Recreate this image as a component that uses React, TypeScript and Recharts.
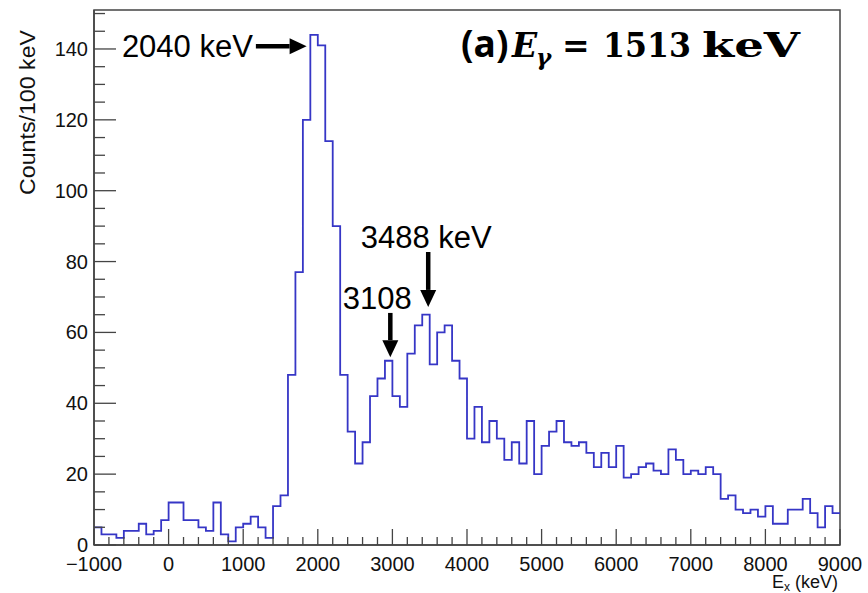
import React from "react";
import { ComposedChart, Line, XAxis, YAxis, ReferenceArea, ReferenceLine } from "recharts";

// counts per 100 keV bin, one list per 1000 keV span (named by its low edge)
const countsFromM1000 = [5, 3, 3, 2, 4, 4, 6, 3, 4, 7];
const countsFrom0 = [12, 12, 7, 7, 5, 4, 12, 3, 1, 5];
const countsFrom1000 = [6, 8, 5, 2, 11, 14, 48, 77, 120, 144];
const countsFrom2000 = [141, 114, 90, 48, 32, 23, 29, 42, 47, 52];
const countsFrom3000 = [42, 39, 54, 62, 65, 51, 60, 62, 52, 47];
const countsFrom4000 = [30, 39, 29, 35, 30, 24, 29, 23, 35, 20];
const countsFrom5000 = [28, 32, 35, 29, 28, 29, 26, 22, 26, 22];
const countsFrom6000 = [28, 19, 20, 22, 23, 21, 20, 27, 24, 20];
const countsFrom7000 = [21, 20, 22, 20, 13, 14, 10, 9, 10, 8];
const countsFrom8000 = [11, 6, 6, 10, 10, 13, 9, 5, 11, 9];

const BIN_LOW_EDGE = -1000;
const BIN_WIDTH = 100;

const xMajorTicks = [-1000, 0, 1000, 2000, 3000, 4000, 5000, 6000, 7000, 8000, 9000];
const yMajorTicks = [0, 20, 40, 60, 80, 100, 120, 140];
const Y_MAX = 151;

// peak markers: energy label, arrow start/end in data units
const peakMarks = [
  { text: "2040 keV", from: { x: 1170, y: 140.8 }, to: { x: 1850, y: 140.8 } },
  { text: "3488 keV", from: { x: 3480, y: 82.7 }, to: { x: 3480, y: 67.2 } },
  { text: "3108", from: { x: 2972, y: 65.5 }, to: { x: 2972, y: 53.0 } },
];

const counts = [
  ...countsFromM1000,
  ...countsFrom0,
  ...countsFrom1000,
  ...countsFrom2000,
  ...countsFrom3000,
  ...countsFrom4000,
  ...countsFrom5000,
  ...countsFrom6000,
  ...countsFrom7000,
  ...countsFrom8000,
];

// step outline: one point per low edge, plus the closing upper edge
const histData = counts.map((c, i) => ({ edge: BIN_LOW_EDGE + i * BIN_WIDTH, counts: c }));
histData.push({ edge: BIN_LOW_EDGE + counts.length * BIN_WIDTH, counts: counts[counts.length - 1] });

// minor ticks: 5 divisions per major step on x, 4 on y
const xTicks: number[] = [];
for (let i = 0; i < xMajorTicks.length - 1; i++) {
  const step = (xMajorTicks[i + 1] - xMajorTicks[i]) / 5;
  for (let k = 0; k < 5; k++) xTicks.push(xMajorTicks[i] + k * step);
}
xTicks.push(xMajorTicks[xMajorTicks.length - 1]);

const yTicks: number[] = [];
for (let i = 0; i < yMajorTicks.length - 1; i++) {
  const step = (yMajorTicks[i + 1] - yMajorTicks[i]) / 4;
  for (let k = 0; k < 4; k++) yTicks.push(yMajorTicks[i] + k * step);
}
yTicks.push(140, 145, 150);

const W = 868;
const H = 593;
const LEFT = 94;
const RIGHT = 840;
const TOP = 10;
const BOTTOM = 545;

const AXIS_COLOR = "#444";
const HIST_COLOR = "#3636c6";
const SANS = "'Liberation Sans', Arial, Helvetica, sans-serif";
const SERIF = "'DejaVu Serif', serif";

const fmt = (v: number) => (v < 0 ? "\u2212" + Math.abs(v) : String(v));

const XTick = (props: any) => {
  const { x, payload } = props;
  const v = payload.value;
  const major = xMajorTicks.includes(v);
  return (
    <g>
      <line x1={x} x2={x} y1={BOTTOM} y2={BOTTOM - (major ? 16 : 8)} stroke={AXIS_COLOR} strokeWidth={1.3} />
      {major && (
        <text x={x} y={BOTTOM + 26} textAnchor="middle" fontFamily={SANS} fontSize={20} fill="#111">
          {fmt(v)}
        </text>
      )}
    </g>
  );
};

const YTick = (props: any) => {
  const { y, payload } = props;
  const v = payload.value;
  const major = yMajorTicks.includes(v);
  return (
    <g>
      <line x1={LEFT} x2={LEFT + (major ? 22 : 11)} y1={y} y2={y} stroke={AXIS_COLOR} strokeWidth={1.3} />
      {major && (
        <text x={LEFT - 6} y={y + 7} textAnchor="end" fontFamily={SANS} fontSize={20} fill="#111">
          {v}
        </text>
      )}
    </g>
  );
};

// thick arrow with a filled head, and its label placed off the tail
const arrowShape = (text: string) => (p: any) => {
  const { x1, y1, x2, y2 } = p;
  const len = Math.hypot(x2 - x1, y2 - y1);
  const ux = (x2 - x1) / len;
  const uy = (y2 - y1) / len;
  const head = 17;
  const half = 8;
  const bx = x2 - ux * head;
  const by = y2 - uy * head;
  const horizontal = Math.abs(ux) > Math.abs(uy);
  return (
    <g>
      <line x1={x1} y1={y1} x2={bx} y2={by} stroke="#000" strokeWidth={4.5} />
      <polygon
        points={`${x2},${y2} ${bx - uy * half},${by + ux * half} ${bx + uy * half},${by - ux * half}`}
        fill="#000"
      />
      {horizontal ? (
        <text x={x1 - 3} y={y1 + 11} textAnchor="end" fontFamily={SANS} fontSize={31} fill="#000">
          {text}
        </text>
      ) : (
        <text
          x={text.length > 5 ? x1 - 2 : x1 - 13}
          y={y1 - 4}
          textAnchor="middle"
          fontFamily={SANS}
          fontSize={31}
          fill="#000"
        >
          {text}
        </text>
      )}
    </g>
  );
};

export default function App() {
  return (
    <div style={{ position: "absolute", left: 0, top: 0, width: W, height: H, background: "#fff" }}>
      <ComposedChart
        width={W}
        height={H}
        data={histData}
        margin={{ top: TOP, right: W - RIGHT, left: 0, bottom: 0 }}
      >
        <XAxis
          dataKey="edge"
          type="number"
          domain={[-1000, 9000]}
          ticks={xTicks}
          interval={0}
          tick={<XTick />}
          tickLine={false}
          axisLine={{ stroke: AXIS_COLOR, strokeWidth: 1.5 }}
          height={H - BOTTOM}
          allowDataOverflow
        />
        <YAxis
          type="number"
          domain={[0, Y_MAX]}
          ticks={yTicks}
          interval={0}
          tick={<YTick />}
          tickLine={false}
          axisLine={{ stroke: AXIS_COLOR, strokeWidth: 1.5 }}
          width={LEFT}
          allowDataOverflow
        />
        <ReferenceArea
          x1={-1000}
          x2={9000}
          y1={0}
          y2={Y_MAX}
          fill="none"
          fillOpacity={0}
          stroke={AXIS_COLOR}
          strokeWidth={1.5}
          ifOverflow="visible"
        />
        <Line
          type="stepAfter"
          dataKey="counts"
          stroke={HIST_COLOR}
          strokeWidth={1.8}
          dot={false}
          activeDot={false}
          isAnimationActive={false}
        />
        {peakMarks.map((m) => (
          <ReferenceLine
            key={m.text}
            segment={[m.from, m.to]}
            ifOverflow="visible"
            stroke="#000"
            shape={arrowShape(m.text)}
          />
        ))}
      </ComposedChart>
      <svg
        width={W}
        height={H}
        style={{ position: "absolute", left: 0, top: 0, pointerEvents: "none" }}
      >
        <text
          transform="translate(35,30) rotate(-90)"
          textAnchor="end"
          fontFamily={SANS}
          fontSize={22}
          textLength={165}
          lengthAdjust="spacingAndGlyphs"
          fill="#111"
        >
          Counts/100 keV
        </text>
        <text x={838} y={588} textAnchor="end" fontFamily={SANS} fontSize={18} fill="#111">
          E
          <tspan fontSize={12} dy={3}>
            x
          </tspan>
          <tspan dy={-3}> (keV)</tspan>
        </text>
        <text y={57} fill="#000">
          <tspan x={461} fontFamily="'Open Sans', Lato, sans-serif" fontWeight="bold" fontSize={37}>
            (a)
          </tspan>
          <tspan x={512} fontFamily={SERIF} fontWeight="bold" fontStyle="italic" fontSize={33}>
            E
          </tspan>
          <tspan x={536} dy={8} fontFamily={SERIF} fontWeight="bold" fontStyle="italic" fontSize={23}>
            γ
          </tspan>
          <tspan x={562} dy={-8} fontFamily={SERIF} fontWeight="bold" fontSize={33}>
            =
          </tspan>
          <tspan
            x={603}
            fontFamily={SERIF}
            fontWeight="bold"
            fontSize={33}
            textLength={88}
            lengthAdjust="spacingAndGlyphs"
          >
            1513
          </tspan>
          <tspan
            x={702}
            fontFamily={SERIF}
            fontWeight="bold"
            fontSize={33}
            textLength={98}
            lengthAdjust="spacingAndGlyphs"
          >
            keV
          </tspan>
        </text>
      </svg>
    </div>
  );
}
